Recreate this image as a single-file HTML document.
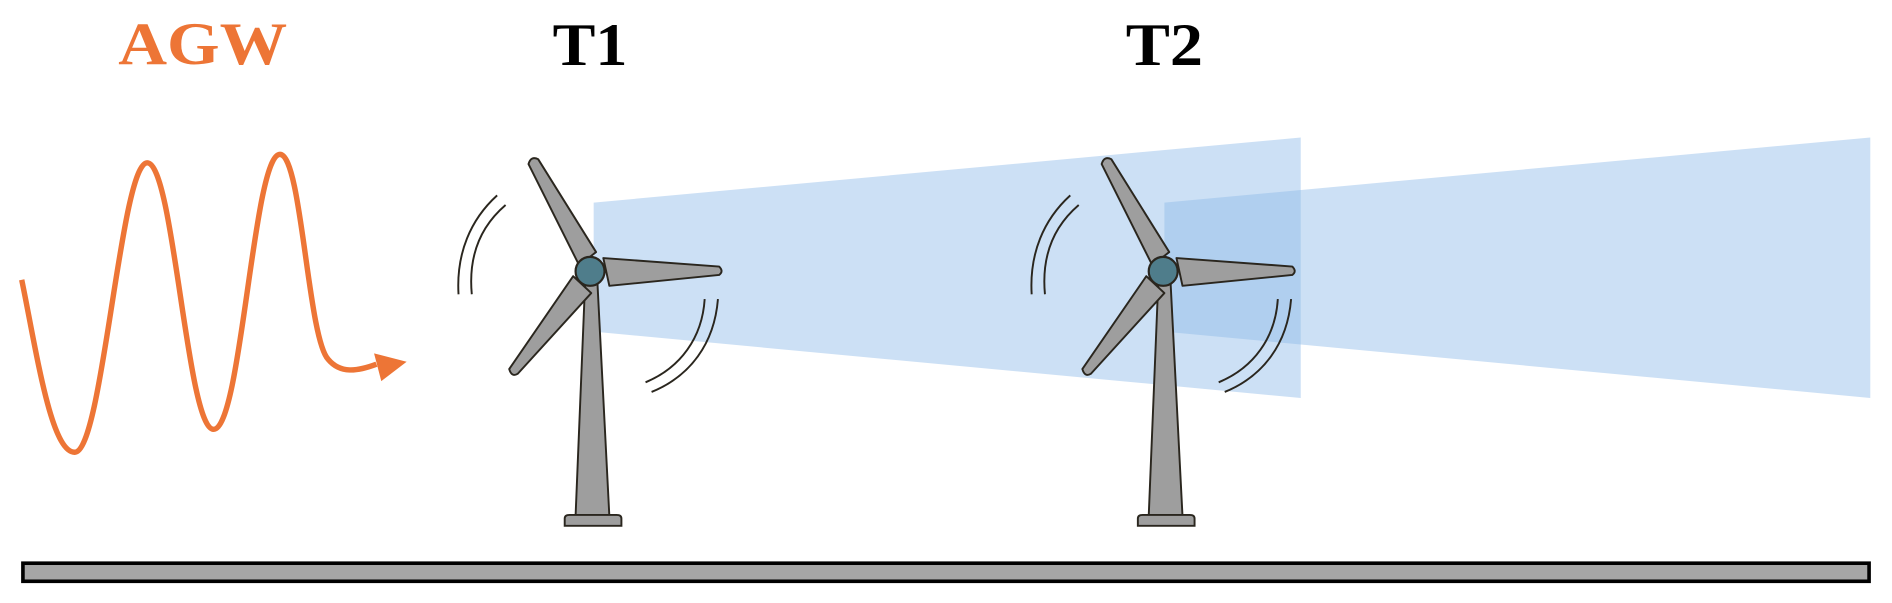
<!DOCTYPE html>
<html><head><meta charset="utf-8"><style>
html,body{margin:0;padding:0;background:#fff;width:1892px;height:603px;overflow:hidden}
svg{display:block}
.t{font-family:"Liberation Serif","Times New Roman",serif;font-weight:bold}
</style></head><body>
<svg width="1892" height="603" viewBox="0 0 1568 500" preserveAspectRatio="none" xmlns="http://www.w3.org/2000/svg">
<defs>
<g id="turb">
  <path d="M380,244 C378,210 390,182 412,162" fill="none" stroke="#2a261e" stroke-width="1.6"/>
  <path d="M391,244 C388,212 398,188 419,170" fill="none" stroke="#2a261e" stroke-width="1.6"/>
  <path d="M584,248 C582,280 564,305 535,317" fill="none" stroke="#2a261e" stroke-width="1.6"/>
  <path d="M595,248 C592,285 572,312 540,325" fill="none" stroke="#2a261e" stroke-width="1.6"/>
  <path d="M485,232 L477,428 L505,428 L495,232 Z" fill="#9e9e9e" stroke="#2a261e" stroke-width="1.6"/>
  <path d="M468,436 L468,430 Q468,427 472,427 L511,427 Q515,427 515,430 L515,436 Z" fill="#9e9e9e" stroke="#2a261e" stroke-width="1.6"/>
  <path d="M480,220 L438,136 Q440,129 446,132 L494,209 Z" fill="#9e9e9e" stroke="#2a261e" stroke-width="1.6" stroke-linejoin="round"/>
  <path d="M500,214 L596,221 Q600,225 596,228 L505,237 Z" fill="#9e9e9e" stroke="#2a261e" stroke-width="1.6" stroke-linejoin="round"/>
  <path d="M475,229 L422,306 Q424,313 429,310 L490,243 Z" fill="#9e9e9e" stroke="#2a261e" stroke-width="1.6" stroke-linejoin="round"/>
  <circle cx="489" cy="225" r="12" fill="#4f7d8b" stroke="#2a261e" stroke-width="1.8"/>
</g>
</defs>
<text class="t" x="98" y="53" font-size="50" fill="#ed7536" textLength="140" lengthAdjust="spacingAndGlyphs">AGW</text>
<text class="t" x="458" y="54" font-size="50" fill="#000" textLength="62" lengthAdjust="spacingAndGlyphs">T1</text>
<text class="t" x="933" y="54" font-size="50" fill="#000" textLength="64" lengthAdjust="spacingAndGlyphs">T2</text>
<path d="M18,232 C30,290 42,375 62,375 C85,375 100,135 122,135 C144,135 155,356 177,356 C200,356 210,128 232,128 C250,128 255,280 272,298 C282,310 296,308 312,302" fill="none" stroke="#ed7536" stroke-width="4.5"/>
<path d="M310,293 L337,300 L316,316 Z" fill="#ed7536"/>
<polygon points="492,168 1078,114 1078,330 492,275" fill="#8fbbe8" fill-opacity="0.45"/>
<polygon points="965,168 1550,114 1550,330 965,275" fill="#8fbbe8" fill-opacity="0.45"/>
<use href="#turb"/>
<use href="#turb" transform="translate(475,0)"/>
<rect x="19" y="467" width="1530" height="15" fill="#a6a6a6" stroke="#000" stroke-width="3"/>
</svg>
</body></html>
